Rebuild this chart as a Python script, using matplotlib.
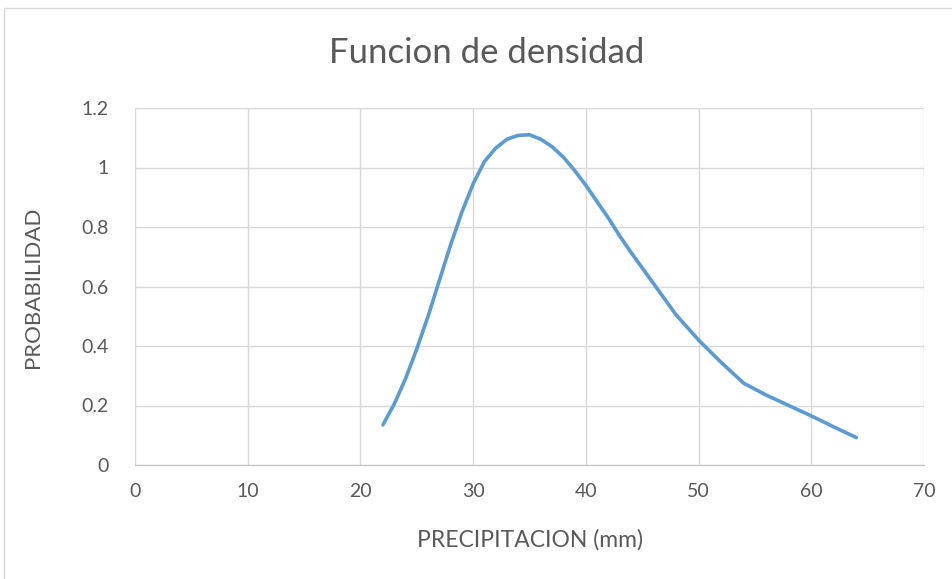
import matplotlib
matplotlib.use("Agg")
import matplotlib.pyplot as plt
from matplotlib.patches import Rectangle

precip = [22.0, 23.0, 24.0, 25.0, 26.0, 27.0, 28.0, 29.0, 30.0, 31.0, 32.0, 33.0,
          34.0, 35.0, 36.0, 37.0, 38.0, 39.0, 40.0, 41.0, 42.0, 43.0, 44.0, 46.0,
          48.0, 50.0, 52.0, 54.0, 56.0, 58.0, 60.0, 62.0, 64.0]
prob = [0.135, 0.205, 0.29, 0.39, 0.50, 0.62, 0.74, 0.85, 0.945, 1.02, 1.065, 1.095,
        1.108, 1.11, 1.095, 1.07, 1.035, 0.99, 0.94, 0.885, 0.83, 0.77, 0.715, 0.61,
        0.505, 0.42, 0.345, 0.275, 0.235, 0.20, 0.165, 0.128, 0.092]
xticks = [0, 10, 20, 30, 40, 50, 60, 70]
yticks = [0, 0.2, 0.4, 0.6, 0.8, 1.0, 1.2]
ytick_labels = ["0", "0.2", "0.4", "0.6", "0.8", "1", "1.2"]

plt.rcParams['font.family'] = ['Lato', 'DejaVu Sans']
W, H = 952, 579
fig = plt.figure(figsize=(W / 100, H / 100), dpi=100)
fig.patches.append(Rectangle((4 / W, -0.01), 1.0, 1 - 8 / H + 0.01, transform=fig.transFigure,
                             fill=False, edgecolor='#d9d9d9', linewidth=1.0))
ax = fig.add_axes([135 / W, 1 - 465 / H, (924 - 135) / W, (465 - 108) / H])
ax.plot(precip, prob, color='#5b9bd5', linewidth=2.6, solid_capstyle='round')
ax.set_xlim(0, 70)
ax.set_ylim(0, 1.2)
ax.set_xticks(xticks)
ax.set_yticks(yticks)
ax.set_yticklabels(ytick_labels)
ax.grid(True, color='#d9d9d9', linewidth=1.0)
ax.set_axisbelow(True)
for s in ['top', 'right', 'left']:
    ax.spines[s].set_visible(False)
ax.spines['bottom'].set_color('#bfbfbf')
ax.tick_params(length=0, labelsize=14, colors='#595959', pad=13)
ax.tick_params(axis='y', pad=19)
fig.text(487 / W, 1 - 53 / H, "Funcion de densidad", ha='center', va='center',
         fontsize=25, color='#595959')
fig.text(530 / W, 1 - 540 / H, "PRECIPITACION (mm)", ha='center', va='center',
         fontsize=16.5, color='#595959')
fig.text(33 / W, 1 - 287 / H, "PROBABILIDAD", ha='center', va='center',
         fontsize=16, color='#595959', rotation=90)
fig.savefig("out.png", dpi=100)
